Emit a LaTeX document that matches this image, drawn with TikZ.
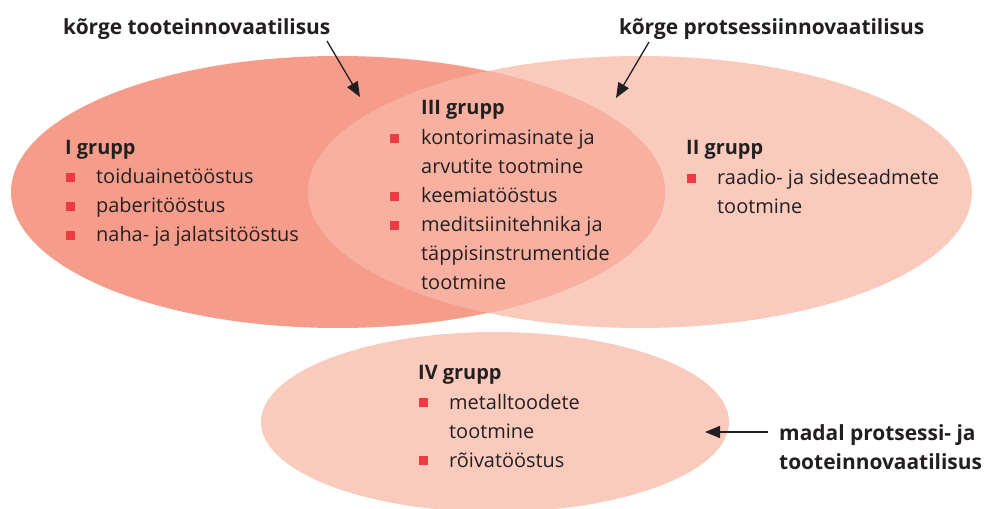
\documentclass[tikz,border=0pt]{standalone}
\usepackage{fontspec}
\setmainfont{Open Sans}
\usetikzlibrary{arrows.meta}
\definecolor{cdark}{HTML}{F59D8A}
\definecolor{clight}{HTML}{FACBBD}
\definecolor{cmid}{HTML}{F8B1A0}
\definecolor{cbul}{HTML}{EE3A43}
\definecolor{ctext}{HTML}{231F20}
\tikzset{
  txt/.style={anchor=base west, inner sep=0pt, text=ctext, font=\fontsize{20}{24}\selectfont},
  head/.style={txt, font=\fontsize{20}{24}\selectfont\bfseries},
  lab/.style={txt, font=\fontsize{21}{26}\selectfont\bfseries},
  bul/.style={fill=cbul, inner sep=0pt, minimum size=9bp, draw=none},
  arr/.style={-{Triangle[length=15bp,width=12bp]}, line width=1.3bp, draw=ctext}
}
\begin{document}
\begin{tikzpicture}[x=1bp,y=-1bp]
\useasboundingbox (0,0) rectangle (985,509);
% ellipses
\fill[clight] (640,192) ellipse [x radius=332, y radius=136];
\fill[cdark] (338,192) ellipse [x radius=327, y radius=136];
\begin{scope}
  \clip (338,192) ellipse [x radius=327, y radius=136];
  \fill[cmid] (640,192) ellipse [x radius=332, y radius=136];
\end{scope}
\fill[clight] (495,422) ellipse [x radius=234, y radius=90];
% top labels
\node[lab] (lt) at (63,35) {kõrge tooteinnovaatilisus};
\node[lab] (lp) at (619,35) {kõrge protsessiinnovaatilisus};
\node[lab] (lm1) at (779,440) {madal protsessi- ja};
\node[lab] (lm2) at (779,469) {tooteinnovaatilisus};
\coordinate (a1s) at (327,41); \coordinate (a1e) at (360,97);
\coordinate (a2s) at (649,42); \coordinate (a2e) at (616,98);
\coordinate (a3s) at (768,432); \coordinate (a3e) at (705,432);
\draw[arr] (a1s) -- (a1e);
\draw[arr] (a2s) -- (a2e);
\draw[arr] (a3s) -- (a3e);
% I grupp
\node[head] (h1) at (65,155) {I grupp};
\node[bul] (b11) at (70.5,177.5) {};
\node[txt] (t11) at (96,184) {toiduainetööstus};
\node[bul] (b12) at (70.5,206.5) {};
\node[txt] (t12) at (96,213) {paberitööstus};
\node[bul] (b13) at (70.5,235.5) {};
\node[txt] (t13) at (96,242) {naha- ja jalatsitööstus};
% II grupp
\node[head] (h2) at (686,155) {II grupp};
\node[bul] (b21) at (691.5,178.5) {};
\node[txt] (t21) at (717,185) {raadio- ja sideseadmete};
\node[txt] (t22) at (717,214) {tootmine};
% III grupp
\node[head] (h3) at (421,115) {III grupp};
\node[bul] (b31) at (394.5,138.5) {};
\node[txt] (t31) at (421,145) {kontorimasinate ja};
\node[txt] (t32) at (421,174) {arvutite tootmine};
\node[bul] (b33) at (394.5,196.5) {};
\node[txt] (t33) at (421,203) {keemiatööstus};
\node[bul] (b34) at (394.5,225.5) {};
\node[txt] (t34) at (421,232) {meditsiinitehnika ja};
\node[txt] (t35) at (421,261) {täppisinstrumentide};
\node[txt] (t36) at (421,290) {tootmine};
% IV grupp
\node[head] (h4) at (418,380) {IV grupp};
\node[bul] (b41) at (423.5,402.5) {};
\node[txt] (t41) at (449,409) {metalltoodete};
\node[txt] (t42) at (449,438) {tootmine};
\node[bul] (b43) at (423.5,460.5) {};
\node[txt] (t43) at (449,467) {rõivatööstus};
\end{tikzpicture}
\end{document}
